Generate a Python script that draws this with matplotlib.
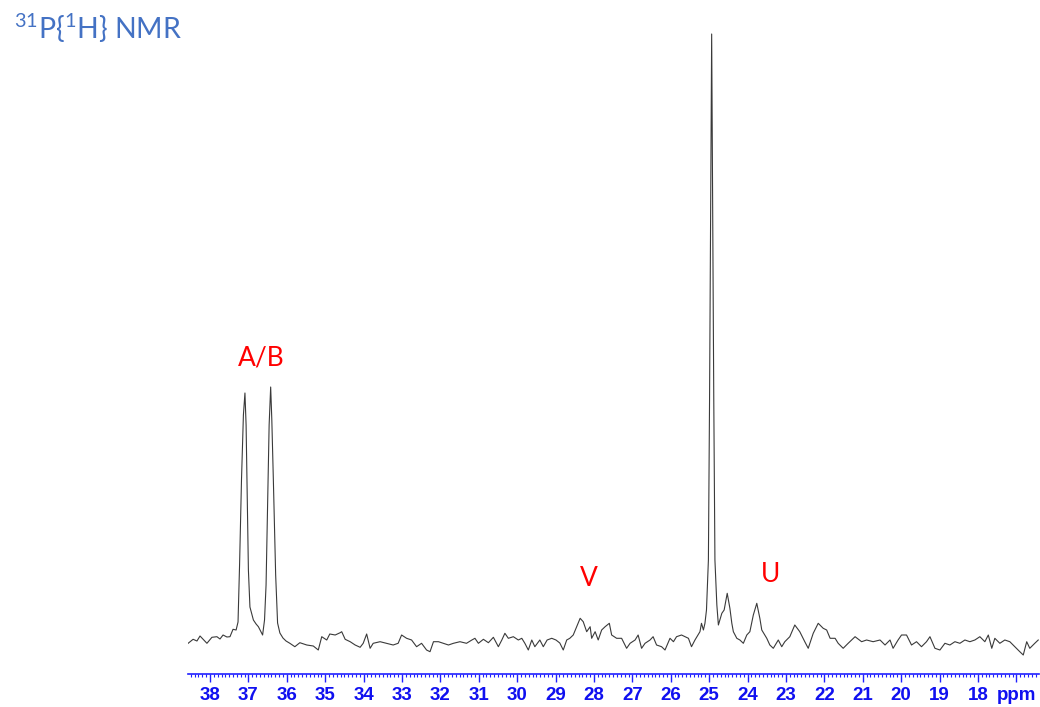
import matplotlib
matplotlib.use("Agg")
import matplotlib.pyplot as plt
from matplotlib.ticker import MultipleLocator, FixedLocator, FixedFormatter

plt.rcParams['mathtext.fontset'] = 'custom'
plt.rcParams['mathtext.rm'] = 'Lato'

# 31P{1H} spectrum, chemical shift (ppm) and intensity (arb. units)
shift_ppm = [
    38.57, 38.44, 38.34, 38.26, 38.16, 38.08, 37.95, 37.82, 37.74, 37.66,
    37.56, 37.48, 37.40, 37.32, 37.27, 37.23, 37.18, 37.13, 37.09, 37.06,
    37.03, 37.00, 36.96, 36.87, 36.80, 36.74, 36.67, 36.63, 36.58, 36.54,
    36.50, 36.46, 36.42, 36.39, 36.35, 36.29, 36.24, 36.18, 36.10, 36.02,
    35.92, 35.79, 35.66, 35.48, 35.31, 35.18, 35.09, 34.96, 34.88, 34.74,
    34.61, 34.57, 34.48, 34.35, 34.22, 34.09, 34.01, 33.92, 33.83, 33.75,
    33.57, 33.40, 33.23, 33.10, 33.01, 32.88, 32.75, 32.62, 32.49, 32.36,
    32.27, 32.18, 32.05, 31.92, 31.79, 31.66, 31.49, 31.32, 31.18, 31.10,
    31.01, 30.88, 30.75, 30.62, 30.49, 30.40, 30.32, 30.23, 30.10, 29.97,
    29.88, 29.80, 29.71, 29.62, 29.54, 29.41, 29.32, 29.22, 29.10, 28.99,
    28.89, 28.80, 28.71, 28.63, 28.54, 28.45, 28.41, 28.36, 28.28, 28.19,
    28.10, 28.06, 27.97, 27.89, 27.80, 27.71, 27.60, 27.54, 27.41, 27.28,
    27.15, 27.06, 26.93, 26.85, 26.76, 26.67, 26.54, 26.46, 26.37, 26.24,
    26.15, 26.02, 25.93, 25.85, 25.72, 25.63, 25.54, 25.46, 25.37, 25.24,
    25.20, 25.15, 25.11, 25.07, 25.02, 24.99, 24.96, 24.935, 24.91, 24.88,
    24.85, 24.80, 24.76, 24.67, 24.61, 24.53, 24.46, 24.41, 24.37, 24.28,
    24.20, 24.11, 24.02, 23.94, 23.85, 23.76, 23.68, 23.63, 23.50, 23.42,
    23.33, 23.20, 23.11, 23.03, 22.90, 22.77, 22.64, 22.51, 22.42, 22.29,
    22.16, 22.03, 21.94, 21.85, 21.72, 21.64, 21.51, 21.38, 21.20, 21.03,
    20.90, 20.73, 20.55, 20.42, 20.29, 20.21, 20.08, 19.99, 19.86, 19.73,
    19.60, 19.47, 19.34, 19.25, 19.12, 18.99, 18.86, 18.73, 18.60, 18.47,
    18.34, 18.21, 18.08, 17.95, 17.82, 17.73, 17.64, 17.56, 17.43, 17.30,
    17.17, 17.04, 16.91, 16.82, 16.73, 16.65, 16.52, 16.43,
]
intensity = [
    -3.3, 0.7, -1.0, 4.0, 0.0, -3.3, 2.7, 3.3, 1.0, 5.0,
    3.0, 3.3, 10.7, 10.0, 18.0, 75.0, 160.0, 225.0, 247.0, 215.0,
    140.0, 70.0, 33.0, 20.0, 16.0, 13.3, 8.0, 5.0, 20.0, 55.0,
    135.0, 215.0, 253.0, 220.0, 160.0, 65.0, 17.0, 7.0, 2.0, -1.0,
    -3.3, -6.7, -2.7, -5.0, -6.0, -10.0, 3.3, 0.0, 6.0, 5.0,
    7.3, 8.3, 0.7, -1.7, -5.0, -7.3, -3.3, 6.0, -8.3, -3.3,
    -1.7, -3.3, -5.0, -3.3, 5.0, 1.7, 0.0, -6.7, -3.3, -10.0,
    -11.7, -1.7, -1.7, -3.3, -5.0, -3.3, -1.7, -3.3, 0.0, 1.7,
    -3.3, 0.7, -2.7, 2.7, -6.7, 0.0, 6.7, 1.7, 3.3, 0.0,
    1.7, -3.3, -10.0, 0.0, -6.7, 0.0, -6.7, 0.0, 1.7, 0.0,
    -3.0, -10.0, 0.0, 1.7, 5.0, 13.3, 17.0, 21.7, 18.3, 8.3,
    13.3, 1.7, 8.3, 0.0, 10.0, 13.3, 16.7, 5.0, 1.7, 1.7,
    -8.3, -3.3, 0.0, 5.0, -8.3, -3.3, 0.0, 3.3, -5.0, -6.7,
    -10.0, 1.7, -1.7, 3.3, 5.0, 3.3, 1.7, -6.7, 0.0, 8.3,
    16.7, 10.0, 16.7, 30.0, 80.0, 240.0, 440.0, 606.0, 440.0, 240.0,
    80.0, 35.0, 15.0, 26.7, 30.0, 46.7, 31.7, 16.7, 8.3, 1.7,
    0.0, -3.3, 5.0, 8.3, 25.0, 36.7, 21.7, 10.0, 1.7, -5.0,
    -8.3, 0.0, -6.7, -1.7, 3.3, 15.0, 8.3, -1.7, -8.3, 6.7,
    16.7, 11.7, 10.0, 1.7, 1.7, -3.3, -8.3, -3.3, 3.3, -1.7,
    0.0, -1.7, 0.0, -5.0, 0.0, -8.3, 0.0, 5.0, 5.0, -5.0,
    -1.7, -6.7, -1.7, 3.3, -8.3, -10.0, -3.3, -5.0, -1.7, -3.3,
    0.0, -1.7, 0.0, 3.3, -1.7, 5.0, -8.3, 1.7, -3.3, 0.0,
    -1.7, -6.7, -11.7, -15.0, -1.7, -8.3, -3.3, 0.0,
]

# peak assignments: label, shift, label height
peak_labels = ["A/B", "V", "U"]
label_shift = [36.67, 28.13, 23.39]
label_height = [282, 62, 65]

major_ticks = list(range(17, 39))
tick_text = [str(t) for t in major_ticks]
tick_text[0] = "ppm"

fig = plt.figure(figsize=(10.4, 7.07), dpi=100)
ax = fig.add_axes([188 / 1040, 33 / 707, 851 / 1040, 654 / 707])

ax.plot(shift_ppm, intensity, color="#3a3a3a", lw=0.8)

ax.set_xlim(38.573, 16.41)
ax.set_ylim(-34, 620)

for side in ["left", "right", "top"]:
    ax.spines[side].set_visible(False)
ax.spines["bottom"].set_color("#1f1fff")
ax.spines["bottom"].set_linewidth(1.2)
ax.set_yticks([])

ax.xaxis.set_major_locator(FixedLocator(major_ticks))
ax.xaxis.set_major_formatter(FixedFormatter(tick_text))
ax.xaxis.set_minor_locator(MultipleLocator(0.1))
ax.tick_params(axis="x", which="major", length=6, width=1.0, color="#1f1fff",
               labelcolor="#1010f0", pad=3.5)
ax.tick_params(axis="x", which="minor", length=2.5, width=0.8, color="#1f1fff")
for lab in ax.get_xticklabels():
    lab.set_fontfamily("Liberation Sans")
    lab.set_fontweight("bold")
    lab.set_fontsize(13.5)

for name, xs, ys in zip(peak_labels, label_shift, label_height):
    ax.text(xs, ys, name, color="#ff0000", fontsize=19, family="Lato",
            ha="center", va="center")

fig.text(14 / 1040, 1 - 39 / 707, r"$^{\mathrm{31}}$P{$^{\mathrm{1}}$H} NMR",
         color="#4472c4", fontsize=20.5, family="Lato", ha="left", va="baseline")

fig.savefig("out.png", dpi=100)
